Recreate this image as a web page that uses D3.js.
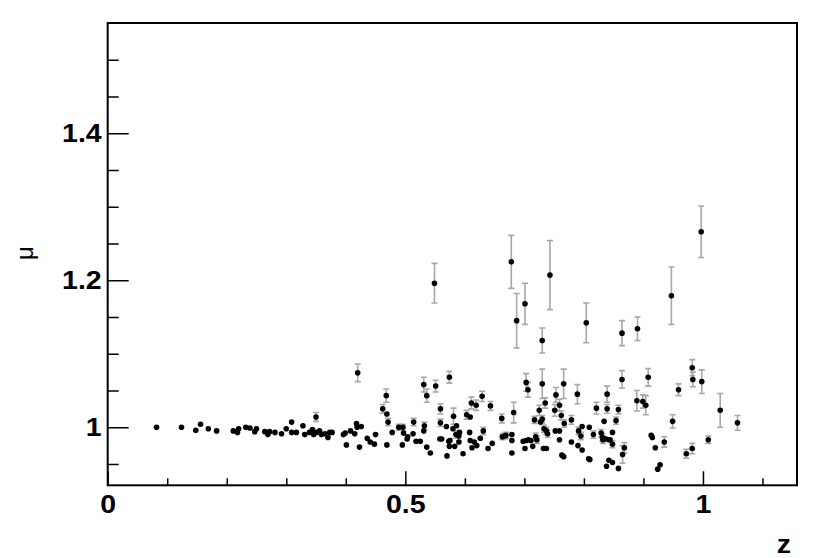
<!DOCTYPE html>
<html>
<head>
<meta charset="utf-8">
<title>mu vs z</title>
<script src="https://d3js.org/d3.v7.min.js"></script>
<style>
    body { margin: 0; background: #fff; }
    svg text { font-family: "Liberation Sans", Arial, Helvetica, sans-serif; }
</style>
</head>
<body>
<div id="chart"></div>
<script>
// redshift of each object
var zValues = [
    0.082, 0.124, 0.148, 0.156, 0.169, 0.183, 0.211, 0.218, 0.220, 0.232,
    0.239, 0.247, 0.250, 0.264, 0.269, 0.272, 0.281, 0.292, 0.300, 0.309,
    0.309, 0.317, 0.328, 0.331, 0.339, 0.344, 0.346, 0.350, 0.351, 0.356,
    0.359, 0.365, 0.370, 0.373, 0.377, 0.396, 0.399, 0.401, 0.408, 0.415,
    0.418, 0.419, 0.423, 0.426, 0.420, 0.436, 0.441, 0.448, 0.450, 0.462,
    0.468, 0.469, 0.471, 0.469, 0.478, 0.489, 0.496, 0.495, 0.497, 0.504,
    0.503, 0.513, 0.514, 0.518, 0.525, 0.531, 0.532, 0.531, 0.536, 0.536,
    0.542, 0.551, 0.549, 0.558, 0.561, 0.559, 0.559, 0.569, 0.570, 0.574,
    0.573, 0.575, 0.574, 0.581, 0.580, 0.583, 0.585, 0.590, 0.586, 0.591,
    0.590, 0.597, 0.603, 0.609, 0.608, 0.609, 0.611, 0.612, 0.616, 0.619,
    0.620, 0.626, 0.629, 0.631, 0.639, 0.643, 0.646, 0.662, 0.663, 0.667,
    0.669, 0.679, 0.679, 0.679, 0.682, 0.678, 0.687, 0.698, 0.703, 0.707,
    0.711, 0.701, 0.703, 0.706, 0.701, 0.714, 0.717, 0.719, 0.721, 0.725,
    0.727, 0.730, 0.730, 0.732, 0.737, 0.735, 0.733, 0.737, 0.739, 0.743,
    0.751, 0.752, 0.753, 0.759, 0.759, 0.759, 0.762, 0.763, 0.766, 0.766,
    0.767, 0.779, 0.779, 0.789, 0.790, 0.791, 0.795, 0.797, 0.797, 0.804,
    0.809, 0.808, 0.810, 0.816, 0.821, 0.829, 0.831, 0.832, 0.834, 0.837,
    0.842, 0.844, 0.839, 0.839, 0.838, 0.842, 0.848, 0.848, 0.848, 0.854,
    0.858, 0.858, 0.864, 0.864, 0.865, 0.868, 0.889, 0.890, 0.899, 0.904,
    0.908, 0.913, 0.915, 0.920, 0.924, 0.928, 0.935, 0.947, 0.949, 0.959,
    0.972, 0.982, 0.982, 0.983, 0.997, 0.998, 1.009, 1.029, 1.058, 0.730
];
// measured mu
var muValues = [
    1.000, 1.000, 0.996, 1.004, 0.998, 0.995, 0.995, 0.993, 0.998, 1.000,
    0.999, 0.994, 0.998, 0.994, 0.990, 0.994, 0.993, 0.991, 0.998, 1.007,
    0.993, 0.993, 1.002, 0.990, 0.993, 0.997, 0.990, 1.014, 0.993, 0.995,
    0.990, 0.991, 0.986, 0.993, 0.993, 0.990, 0.992, 0.976, 0.995, 0.991,
    1.005, 1.000, 0.973, 1.001, 1.074, 0.985, 0.980, 0.977, 0.990, 1.025,
    1.043, 1.018, 1.007, 0.976, 0.993, 1.000, 1.000, 0.976, 0.992, 0.987,
    0.984, 0.991, 1.007, 0.981, 0.981, 0.995, 1.002, 1.058, 1.043, 0.973,
    0.965, 1.056, 1.196, 0.984, 0.984, 1.025, 1.006, 1.001, 0.961, 1.068,
    0.981, 0.982, 0.974, 1.015, 0.998, 0.974, 0.990, 0.988, 1.002, 0.993,
    0.980, 0.964, 1.017, 1.014, 0.993, 0.982, 1.033, 0.972, 0.980, 1.030,
    0.975, 0.985, 1.042, 0.995, 0.971, 1.029, 0.978, 1.012, 0.987, 0.988,
    0.989, 0.965, 0.990, 0.982, 1.020, 1.225, 1.145, 0.981, 0.982, 0.983,
    0.982, 0.971, 1.061, 1.051, 1.168, 0.974, 1.010, 0.987, 0.983, 1.023,
    1.007, 1.059, 1.118, 0.971, 0.971, 1.033, 0.998, 0.995, 0.991, 1.207,
    1.023, 0.995, 1.044, 1.030, 0.995, 0.983, 1.016, 0.962, 0.960, 1.059,
    1.005, 1.010, 0.980, 1.045, 0.975, 0.995, 0.988, 1.001, 0.969, 1.142,
    1.000, 0.957, 0.956, 0.990, 1.026, 0.992, 0.986, 0.983, 1.008, 0.984,
    0.983, 0.983, 1.025, 1.045, 0.947, 0.955, 0.952, 0.993, 0.977, 1.009,
    1.024, 0.944, 1.065, 1.128, 0.963, 0.972, 1.036, 1.134, 1.035, 1.030,
    1.068, 0.989, 0.986, 0.972, 0.943, 0.949, 0.980, 1.179, 1.008, 1.051,
    0.964, 0.971, 1.081, 1.065, 1.266, 1.062, 0.983, 1.023, 1.006, 1.011
];
// uncertainty on mu (0 = bar hidden under the marker)
var muErrors = [
    0, 0, 0, 0, 0, 0, 0, 0, 0, 0,
    0, 0, 0, 0, 0, 0, 0, 0, 0, 0,
    0, 0, 0, 0, 0, 0, 0, 0.006, 0, 0,
    0, 0, 0, 0, 0, 0, 0, 0, 0, 0,
    0, 0, 0, 0, 0.012, 0, 0, 0, 0, 0.006,
    0.009, 0, 0.005, 0, 0, 0.004, 0.004, 0, 0, 0,
    0, 0, 0.005, 0, 0, 0, 0.005, 0.010, 0.009, 0,
    0, 0.008, 0.027, 0, 0, 0.007, 0.005, 0, 0, 0.008,
    0, 0, 0, 0.011, 0, 0, 0.005, 0.006, 0, 0,
    0, 0, 0.006, 0, 0, 0, 0.008, 0, 0, 0.007,
    0, 0, 0.007, 0.005, 0, 0.006, 0, 0.006, 0.004, 0.004,
    0.004, 0, 0, 0, 0.014, 0.036, 0.037, 0, 0, 0,
    0, 0, 0.012, 0.010, 0.028, 0, 0.005, 0.005, 0.005, 0.007,
    0, 0.020, 0.017, 0, 0, 0.007, 0.005, 0.005, 0.005, 0.047,
    0.008, 0, 0.010, 0.008, 0, 0, 0.006, 0, 0, 0.020,
    0.005, 0.006, 0, 0.013, 0, 0.005, 0.005, 0, 0, 0.027,
    0, 0, 0, 0.005, 0.008, 0.005, 0.005, 0.005, 0, 0,
    0, 0, 0.006, 0.011, 0, 0, 0, 0, 0.005, 0.005,
    0.006, 0, 0.012, 0.017, 0.012, 0.007, 0.014, 0.016, 0.009, 0.013,
    0.012, 0, 0, 0, 0, 0, 0.007, 0.039, 0.009, 0.008,
    0.006, 0.007, 0.011, 0.010, 0.035, 0.016, 0.005, 0.023, 0.010, 0.005
];
var xMajorTicks = [0, 0.5, 1];
var xMinorTicks = [0.1, 0.2, 0.3, 0.4, 0.6, 0.7, 0.8, 0.9, 1.1];
var yMajorTicks = [1, 1.2, 1.4];
var yMinorTicks = [0.95, 1.05, 1.1, 1.15, 1.25, 1.3, 1.35, 1.45, 1.5];

var w = 830, h = 558;
var margin = {left: 107.7, right: 33, top: 23, bottom: 72.7};
var iw = w - margin.left - margin.right,
    ih = h - margin.top - margin.bottom;
var stretch = 1.14; // labels are a touch wider than Liberation bold

var svg = d3.select("#chart").append("svg")
    .attr("width", w)
    .attr("height", h);

var g = svg.append("g")
    .attr("transform", "translate(" + margin.left + "," + margin.top + ")");

var x = d3.scaleLinear().domain([0, 1.158]).range([0, iw]);
var y = d3.scaleLinear().domain([0.921, 1.55]).range([ih, 0]);

var fmt = function(d) { return String(d); };

// x axis: majors with labels, minors without
var xMaj = g.append("g")
    .attr("transform", "translate(0," + ih + ")")
    .call(d3.axisBottom(x).tickValues(xMajorTicks).tickFormat(fmt)
        .tickSizeInner(-14).tickSizeOuter(0).tickPadding(10));
var xMin = g.append("g")
    .attr("transform", "translate(0," + ih + ")")
    .call(d3.axisBottom(x).tickValues(xMinorTicks).tickFormat("")
        .tickSizeInner(-7).tickSizeOuter(0));

var yMaj = g.append("g")
    .call(d3.axisLeft(y).tickValues(yMajorTicks).tickFormat(fmt)
        .tickSizeInner(-21).tickSizeOuter(0).tickPadding(6));
var yMin = g.append("g")
    .call(d3.axisLeft(y).tickValues(yMinorTicks).tickFormat("")
        .tickSizeInner(-11).tickSizeOuter(0));

[xMaj, xMin, yMaj, yMin].forEach(function(a) {
    a.select(".domain").remove();
    a.selectAll(".tick line").attr("stroke", "#000").attr("stroke-width", 1.5);
    a.selectAll(".tick text")
        .attr("fill", "#000")
        .attr("transform", "scale(" + stretch + ",1)")
        .style("font-size", "25px")
        .style("font-weight", "bold");
});
// keep y labels' right edge where it was after the stretch
yMaj.selectAll(".tick text").attr("x", -6 / stretch);

// error bars
var points = zValues.map(function(d, i) {
    return {z: d, mu: muValues[i], err: muErrors[i]};
});
var withErr = points.filter(function(d) { return d.err > 0; });

var bars = g.append("g")
    .attr("stroke", "#a8a8a8")
    .attr("stroke-width", 1.6)
    .attr("fill", "none");

bars.selectAll("path")
    .data(withErr).enter()
    .append("path")
    .attr("d", function(d) {
        var cx = x(d.z), y0 = y(d.mu - d.err), y1 = y(d.mu + d.err);
        return "M" + cx + "," + y0 + "V" + y1 +
            "M" + (cx - 3) + "," + y0 + "H" + (cx + 3) +
            "M" + (cx - 3) + "," + y1 + "H" + (cx + 3);
    });

// markers
g.append("g").selectAll("circle")
    .data(points).enter()
    .append("circle")
    .attr("cx", function(d) { return x(d.z); })
    .attr("cy", function(d) { return y(d.mu); })
    .attr("r", 2.8)
    .attr("fill", "#000");

// frame
g.append("rect")
    .attr("width", iw)
    .attr("height", ih)
    .attr("fill", "none")
    .attr("stroke", "#000")
    .attr("stroke-width", 2);

// axis titles
svg.append("text")
    .attr("transform", "translate(" + (margin.left + iw - 6) + ",553) scale(" + stretch + ",1)")
    .attr("text-anchor", "end")
    .style("font-size", "25px")
    .style("font-weight", "bold")
    .text("z");

svg.append("text")
    .attr("transform", "translate(33,253) rotate(-90)")
    .attr("text-anchor", "middle")
    .style("font-size", "24px")
    .text("μ");
</script>
</body>
</html>
